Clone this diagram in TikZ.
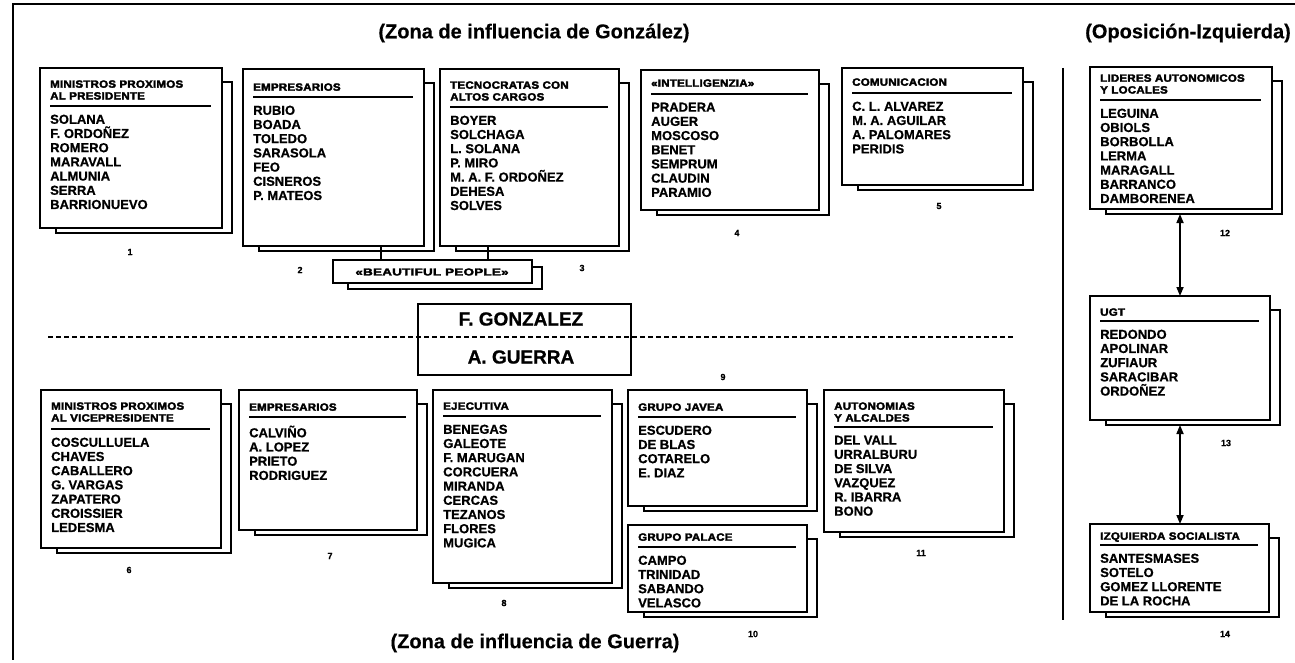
\documentclass[tikz,border=0pt]{standalone}
\usepackage{fontspec}
\setmainfont{Liberation Sans}[BoldFeatures={FakeBold=0.8}]
\newfontfamily\hdrfont{Liberation Sans}[FakeStretch=1.1,BoldFeatures={FakeBold=3},LetterSpace=2]
\newfontfamily\bpfont{Liberation Sans}[FakeStretch=1.35,BoldFeatures={FakeBold=3},LetterSpace=2]
\newfontfamily\ttlfont{Liberation Sans}[BoldFeatures={FakeBold=0.3}]
\usetikzlibrary{arrows.meta}
\tikzset{
 mainbox/.style={draw, line width=1.8pt, fill=white, inner sep=0pt, outer sep=0pt, anchor=north west},
 shadowbox/.style={draw, line width=1.6pt, fill=white, inner sep=0pt, outer sep=0pt, anchor=north west},
 hdr/.style={font=\hdrfont\bfseries\fontsize{10.5}{11.8}\selectfont, align=left, inner sep=0pt, anchor=north west},
 names/.style={font=\bfseries\fontsize{13}{14.2}\selectfont, align=left, inner sep=0pt, anchor=north west},
 hrule/.style={line width=1.2pt},
 lbl/.style={font=\bfseries\fontsize{9}{10}\selectfont, inner sep=0pt},
 title/.style={font=\ttlfont\bfseries\fontsize{20}{22}\selectfont, inner sep=0pt},
 chief/.style={font=\bfseries\fontsize{19}{20}\selectfont, inner sep=0pt},
 frame/.style={line width=1.5pt},
 link/.style={line width=1.6pt},
 dual/.style={line width=1.6pt, {Triangle[length=9pt,width=7pt]}-{Triangle[length=9pt,width=7pt]}},
}
\newcommand\grpbox[9]{%
 \node[shadowbox, minimum width={#4-#2-6}, minimum height={#5-#3-9}] (#1s) at ({#2+16},{#3+14}) {};
 \node[mainbox, minimum width={#4-#2}, minimum height={#5-#3}] (#1) at (#2,#3) {};
 \node[hdr] (#1h) at ({#2+10},{#6-3.8}) {#8};
 \draw[hrule] ({#2+10},#7) -- ({#4-11},#7);
 \node[names] (#1n) at ({#2+10},{#7+8.5}) {#9};
}
\begin{document}
\begin{tikzpicture}[x=1pt,y=-1pt]
\useasboundingbox (0,0) rectangle (1295,663);
% frame
\coordinate (fr1) at (1295,4);
\coordinate (fr2) at (13,4);
\coordinate (fr3) at (13,660);
\draw[frame] (fr1) -- (fr2) -- (fr3);
% separator
\coordinate (st) at (1063,68);
\coordinate (sb) at (1063,620);
\draw[line width=2pt] (st) -- (sb);
% titles
\node[title] (t1) at (534,33) {(Zona de influencia de González)};
\node[title] (t2) at (1188,33) {(Oposición-Izquierda)};
\node[title] (t3) at (535,643) {(Zona de influencia de Guerra)};
% groups
\grpbox{b1}{40}{68}{222}{228}{84}{106}{MINISTROS PROXIMOS\\AL PRESIDENTE}{SOLANA\\F. ORDOÑEZ\\ROMERO\\MARAVALL\\ALMUNIA\\SERRA\\BARRIONUEVO}
\grpbox{b2}{243}{69}{424}{246}{87}{97}{EMPRESARIOS}{RUBIO\\BOADA\\TOLEDO\\SARASOLA\\FEO\\CISNEROS\\P. MATEOS}
\grpbox{b3}{440}{69}{619}{246}{85}{107}{TECNOCRATAS CON\\ALTOS CARGOS}{BOYER\\SOLCHAGA\\L. SOLANA\\P. MIRO\\M. A. F. ORDOÑEZ\\DEHESA\\SOLVES}
\grpbox{b4}{641}{70}{819}{210}{83}{94}{«INTELLIGENZIA»}{PRADERA\\AUGER\\MOSCOSO\\BENET\\SEMPRUM\\CLAUDIN\\PARAMIO}
\grpbox{b5}{842}{68}{1023}{185}{82}{93}{COMUNICACION}{C. L. ALVAREZ\\M. A. AGUILAR\\A. PALOMARES\\PERIDIS}
\grpbox{b12}{1090}{67}{1272}{209}{78}{100}{LIDERES AUTONOMICOS\\Y LOCALES}{LEGUINA\\OBIOLS\\BORBOLLA\\LERMA\\MARAGALL\\BARRANCO\\DAMBORENEA}
\grpbox{b6}{41}{390}{221}{548}{406}{429}{MINISTROS PROXIMOS\\AL VICEPRESIDENTE}{COSCULLUELA\\CHAVES\\CABALLERO\\G. VARGAS\\ZAPATERO\\CROISSIER\\LEDESMA}
\grpbox{b7}{239}{390}{417}{530}{407}{417}{EMPRESARIOS}{CALVIÑO\\A. LOPEZ\\PRIETO\\RODRIGUEZ}
\grpbox{b8}{433}{390}{612}{583}{406}{416}{EJECUTIVA}{BENEGAS\\GALEOTE\\F. MARUGAN\\CORCUERA\\MIRANDA\\CERCAS\\TEZANOS\\FLORES\\MUGICA}
\grpbox{b9}{628}{390}{807}{506}{407}{417}{GRUPO JAVEA}{ESCUDERO\\DE BLAS\\COTARELO\\E. DIAZ}
\grpbox{b10}{628}{525}{807}{612}{537}{547}{GRUPO PALACE}{CAMPO\\TRINIDAD\\SABANDO\\VELASCO}
\grpbox{b11}{824}{390}{1004}{532}{406}{427}{AUTONOMIAS\\Y ALCALDES}{DEL VALL\\URRALBURU\\DE SILVA\\VAZQUEZ\\R. IBARRA\\BONO}
\grpbox{b13}{1090}{296}{1270}{420}{312}{321}{UGT}{REDONDO\\APOLINAR\\ZUFIAUR\\SARACIBAR\\ORDOÑEZ}
\grpbox{b14}{1090}{524}{1269}{612}{536}{545}{IZQUIERDA SOCIALISTA}{SANTESMASES\\SOTELO\\GOMEZ LLORENTE\\DE LA ROCHA}
% beautiful people
\node[shadowbox, minimum width=194, minimum height=22] (bps) at (348,267) {};
\node[mainbox, minimum width=199, minimum height=23] (bp) at (333,260) {};
\node[font=\bpfont\bfseries\fontsize{10}{11}\selectfont, inner sep=0pt] (bpt) at (432,272) {«BEAUTIFUL PEOPLE»};
\coordinate (c2) at (381,0);
\coordinate (c3) at (488,0);
\draw[link] (b2.south -| c2) -- (bp.north -| c2);
\draw[link] (b3.south -| c3) -- (bp.north -| c3);
% chiefs
\node[draw, line width=1.8pt, inner sep=0pt, anchor=north west, minimum width=213, minimum height=71] (fg) at (417,303) {};
\node[chief] (fgt) at (521,319) {F. GONZALEZ};
\node[chief] (agt) at (521,357) {A. GUERRA};
\coordinate (dl) at (48,337);
\coordinate (dr) at (1015,337);
\draw[line width=1.5pt, dash pattern=on 5pt off 3pt] (dl) -- (dr);
% arrows
\coordinate (ax) at (1180,0);
\draw[dual] (b12s.south -| ax) -- (b13.north -| ax);
\draw[dual] (b13s.south -| ax) -- (b14.north -| ax);
% labels
\node[lbl] (l1) at (130,252) {1};
\node[lbl] (l2) at (300,270) {2};
\node[lbl] (l3) at (582,268) {3};
\node[lbl] (l4) at (737,233) {4};
\node[lbl] (l5) at (939,206) {5};
\node[lbl] (l6) at (129,570) {6};
\node[lbl] (l7) at (330,556) {7};
\node[lbl] (l8) at (504,603) {8};
\node[lbl] (l9) at (723,377) {9};
\node[lbl] (l10) at (753,634) {10};
\node[lbl] (l11) at (921,553) {11};
\node[lbl] (l12) at (1225,233) {12};
\node[lbl] (l13) at (1226,443) {13};
\node[lbl] (l14) at (1225,634) {14};
\end{tikzpicture}
\end{document}
